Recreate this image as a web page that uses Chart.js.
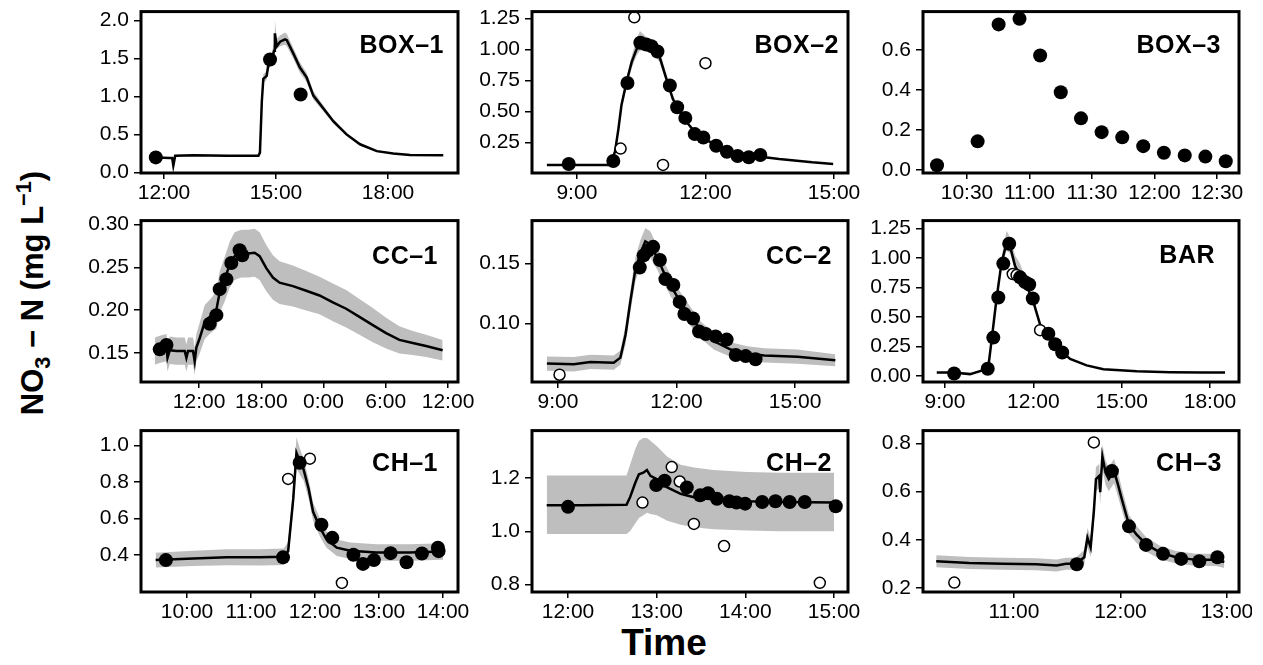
<!DOCTYPE html>
<html>
<head>
<meta charset="utf-8">
<script src="https://cdn.jsdelivr.net/npm/chart.js@4.4.1/dist/chart.umd.min.js"></script>
<style>
  body { margin: 0; background: #fff; }
  #page { position: relative; width: 1252px; height: 665px; overflow: hidden; }
  canvas { position: absolute; }
  .title { position: absolute; font-family: 'Liberation Sans', Arial, sans-serif; font-weight: bold; color: #000; text-align: center; white-space: nowrap; }
  .title span { font-size: 70%; line-height: 0; position: relative; }
</style>
</head>
<body>
<div id="page">
  <div class="title" id="ytitle">NO<span style="top:0.3em">3</span> − N (mg L<span style="top:-0.55em">−1</span>)</div>
  <div class="title" id="xtitle">Time</div>
</div>
<script>
// times are decimal hours of the day (CC-1 runs into the next day, so 24 = 0:00)

// BOX-1
const box1Time = [11.62, 12.16, 12.22, 12.25, 12.30, 12.8, 13.7, 14.53, 14.57, 14.62, 14.66, 14.75, 14.79, 14.88, 14.95, 14.97, 15.02, 15.11, 15.24, 15.29, 15.46, 15.64, 15.82, 16.0, 16.27, 16.54, 16.89, 17.25, 17.70, 18.14, 18.59, 19.48];
const box1No3 = [0.20, 0.19, 0.19, 0.09, 0.22, 0.225, 0.22, 0.22, 0.26, 0.93, 1.23, 1.27, 1.40, 1.48, 1.60, 1.83, 1.66, 1.72, 1.75, 1.74, 1.57, 1.38, 1.25, 1.01, 0.84, 0.67, 0.50, 0.37, 0.28, 0.25, 0.23, 0.225];
const box1Lo = [0.19, 0.18, 0.18, 0.08, 0.21, 0.215, 0.21, 0.21, 0.24, 0.88, 1.17, 1.22, 1.34, 1.42, 1.55, 1.75, 1.62, 1.66, 1.68, 1.66, 1.50, 1.31, 1.19, 0.96, 0.80, 0.64, 0.48, 0.355, 0.27, 0.24, 0.22, 0.215];
const box1Hi = [0.21, 0.20, 0.20, 0.10, 0.23, 0.235, 0.23, 0.23, 0.28, 0.98, 1.29, 1.33, 1.46, 1.55, 1.72, 2.0, 1.76, 1.80, 1.84, 1.82, 1.64, 1.45, 1.31, 1.07, 0.88, 0.70, 0.52, 0.385, 0.29, 0.26, 0.24, 0.235];
const box1SampT = [11.78, 14.84, 15.66];
const box1SampV = [0.197, 1.485, 1.026];
const box1OutT = [];
const box1OutV = [];
const box1XTicks = [12, 15, 18];
const box1YTicks = [0, 0.5, 1.0, 1.5, 2.0];

// BOX-2
const box2Time = [8.30, 9.77, 9.89, 9.97, 10.04, 10.16, 10.28, 10.39, 10.47, 10.62, 10.78, 10.93, 11.09, 11.24, 11.40, 11.55, 11.78, 12.02, 12.33, 12.63, 13.10, 13.72, 14.49, 14.98];
const box2No3 = [0.068, 0.068, 0.175, 0.36, 0.55, 0.74, 0.90, 1.0, 1.04, 1.03, 1.0, 0.94, 0.76, 0.60, 0.50, 0.42, 0.32, 0.27, 0.215, 0.175, 0.143, 0.116, 0.089, 0.076];
const box2Lo = [0.06, 0.06, 0.16, 0.34, 0.52, 0.70, 0.85, 0.95, 0.99, 0.99, 0.96, 0.90, 0.73, 0.58, 0.485, 0.41, 0.31, 0.262, 0.21, 0.17, 0.139, 0.113, 0.087, 0.074];
const box2Hi = [0.076, 0.076, 0.19, 0.38, 0.58, 0.78, 0.95, 1.08, 1.15, 1.10, 1.05, 0.99, 0.80, 0.63, 0.52, 0.43, 0.33, 0.278, 0.22, 0.18, 0.147, 0.119, 0.091, 0.078];
const box2SampT = [8.81, 9.85, 10.18, 10.48, 10.62, 10.74, 10.88, 11.17, 11.34, 11.53, 11.75, 11.95, 12.25, 12.50, 12.75, 13.01, 13.28];
const box2SampV = [0.076, 0.10, 0.73, 1.054, 1.04, 1.027, 0.984, 0.71, 0.534, 0.448, 0.317, 0.29, 0.223, 0.175, 0.14, 0.13, 0.148];
const box2OutT = [10.34, 10.02, 12.0, 11.01];
const box2OutV = [1.26, 0.20, 0.89, 0.068];
const box2XTicks = [9, 12, 15];
const box2YTicks = [0.25, 0.5, 0.75, 1.0, 1.25];

// BOX-3 (grab samples only)
const box3SampT = [10.26, 10.585, 10.753, 10.92, 11.085, 11.25, 11.412, 11.577, 11.742, 11.91, 12.075, 12.242, 12.407, 12.57];
const box3SampV = [0.024, 0.143, 0.727, 0.755, 0.572, 0.388, 0.258, 0.189, 0.163, 0.119, 0.086, 0.073, 0.067, 0.044];
const box3XTicks = [10.5, 11, 11.5, 12, 12.5];
const box3YTicks = [0, 0.2, 0.4, 0.6];

// CC-1
const cc1Time = [7.73, 8.21, 8.86, 8.96, 9.18, 9.82, 10.62, 10.78, 10.94, 11.42, 11.58, 11.74, 12.06, 12.55, 13.19, 13.67, 13.99, 14.47, 14.95, 15.43, 16.07, 16.72, 17.36, 17.84, 18.48, 19.12, 19.76, 21.05, 22.33, 23.61, 24.9, 26.18, 27.46, 28.75, 30.03, 31.31, 32.6, 33.88, 35.48];
const cc1No3 = [0.152, 0.154, 0.156, 0.144, 0.153, 0.152, 0.152, 0.144, 0.152, 0.152, 0.140, 0.156, 0.167, 0.186, 0.194, 0.20, 0.221, 0.236, 0.253, 0.263, 0.266, 0.266, 0.267, 0.263, 0.249, 0.238, 0.232, 0.228, 0.2225, 0.217, 0.209, 0.2015, 0.192, 0.1824, 0.173, 0.165, 0.1614, 0.158, 0.153];
const cc1Lo = [0.136, 0.138, 0.140, 0.128, 0.137, 0.136, 0.136, 0.128, 0.136, 0.136, 0.124, 0.140, 0.149, 0.166, 0.174, 0.178, 0.197, 0.210, 0.226, 0.235, 0.238, 0.238, 0.239, 0.235, 0.222, 0.212, 0.207, 0.204, 0.1995, 0.195, 0.187, 0.1795, 0.171, 0.1624, 0.155, 0.149, 0.1474, 0.145, 0.141];
const cc1Hi = [0.168, 0.170, 0.172, 0.160, 0.169, 0.168, 0.168, 0.160, 0.168, 0.168, 0.156, 0.172, 0.185, 0.206, 0.214, 0.222, 0.245, 0.262, 0.280, 0.291, 0.294, 0.294, 0.295, 0.291, 0.276, 0.264, 0.257, 0.252, 0.2455, 0.239, 0.231, 0.2235, 0.213, 0.2024, 0.191, 0.181, 0.1754, 0.171, 0.165];
const cc1SampT = [8.21, 8.86, 13.03, 13.67, 13.99, 14.63, 15.11, 15.91, 16.17];
const cc1SampV = [0.154, 0.159, 0.184, 0.194, 0.2244, 0.236, 0.255, 0.270, 0.264];
const cc1XTicks = [12, 18, 24, 30, 36];
const cc1YTicks = [0.15, 0.20, 0.25, 0.30];

// CC-2
const cc2Time = [8.72, 9.40, 9.82, 10.41, 10.58, 10.71, 10.83, 10.96, 11.09, 11.21, 11.34, 11.51, 11.68, 11.85, 12.10, 12.36, 12.61, 12.95, 13.37, 13.79, 14.22, 15.06, 16.02];
const cc2No3 = [0.0662, 0.0657, 0.0676, 0.067, 0.0712, 0.0904, 0.1179, 0.1453, 0.159, 0.1687, 0.1659, 0.155, 0.1426, 0.1316, 0.1179, 0.1055, 0.0945, 0.0849, 0.078, 0.0747, 0.0731, 0.072, 0.069];
const cc2Lo = [0.0602, 0.0597, 0.0616, 0.061, 0.0652, 0.0824, 0.1089, 0.1353, 0.148, 0.1577, 0.1549, 0.145, 0.1336, 0.1226, 0.1099, 0.0975, 0.0875, 0.0779, 0.072, 0.0687, 0.0671, 0.066, 0.064];
const cc2Hi = [0.0722, 0.0717, 0.0736, 0.073, 0.0772, 0.0984, 0.1269, 0.1553, 0.170, 0.1797, 0.1769, 0.165, 0.1516, 0.1406, 0.1259, 0.1135, 0.1015, 0.0919, 0.084, 0.0807, 0.0791, 0.078, 0.074];
const cc2SampT = [11.07, 11.17, 11.28, 11.41, 11.58, 11.72, 11.92, 12.08, 12.20, 12.42, 12.57, 12.74, 12.99, 13.27, 13.50, 13.75, 14.00];
const cc2SampV = [0.1467, 0.1569, 0.161, 0.164, 0.153, 0.137, 0.132, 0.1179, 0.1077, 0.104, 0.0931, 0.091, 0.089, 0.0863, 0.0734, 0.0725, 0.0698];
const cc2OutT = [9.04];
const cc2OutV = [0.0569];
const cc2XTicks = [9, 12, 15];
const cc2YTicks = [0.10, 0.15];

// BAR
const barTime = [8.72, 9.28, 9.85, 10.30, 10.47, 10.58, 10.75, 10.92, 11.09, 11.21, 11.38, 11.55, 11.77, 12.0, 12.23, 12.45, 12.79, 13.25, 13.81, 14.38, 15.51, 16.64, 17.77, 18.51];
const barNo3 = [0.030, 0.030, 0.017, 0.050, 0.077, 0.298, 0.657, 0.96, 1.126, 1.098, 0.932, 0.85, 0.767, 0.629, 0.436, 0.353, 0.243, 0.146, 0.091, 0.058, 0.041, 0.033, 0.030, 0.030];
const barLo = [0.025, 0.025, 0.012, 0.044, 0.07, 0.28, 0.63, 0.92, 1.06, 1.04, 0.89, 0.81, 0.74, 0.61, 0.42, 0.34, 0.235, 0.14, 0.087, 0.055, 0.038, 0.03, 0.027, 0.027];
const barHi = [0.035, 0.035, 0.022, 0.056, 0.085, 0.32, 0.69, 1.00, 1.23, 1.17, 1.02, 0.95, 0.80, 0.65, 0.45, 0.365, 0.25, 0.152, 0.095, 0.061, 0.044, 0.036, 0.033, 0.033];
const barSampT = [9.31, 10.45, 10.64, 10.81, 10.98, 11.18, 11.55, 11.72, 11.86, 11.98, 12.51, 12.74, 12.98];
const barSampV = [0.022, 0.063, 0.326, 0.665, 0.952, 1.12, 0.836, 0.795, 0.775, 0.657, 0.359, 0.27, 0.20];
const barOutT = [11.30, 11.43, 12.23];
const barOutV = [0.864, 0.855, 0.389];
const barXTicks = [9, 12, 15, 18];
const barYTicks = [0, 0.25, 0.5, 0.75, 1.0, 1.25];

// CH-1
const ch1Time = [9.51, 10.10, 10.62, 11.14, 11.51, 11.58, 11.66, 11.71, 11.77, 11.82, 11.90, 11.97, 12.08, 12.18, 12.34, 12.55, 12.96, 13.48, 14.0];
const ch1No3 = [0.371, 0.380, 0.386, 0.386, 0.389, 0.42, 0.708, 0.959, 0.905, 0.869, 0.762, 0.636, 0.547, 0.484, 0.439, 0.422, 0.413, 0.413, 0.418];
const ch1Lo = [0.331, 0.338, 0.342, 0.341, 0.344, 0.37, 0.648, 0.874, 0.835, 0.809, 0.707, 0.586, 0.497, 0.439, 0.394, 0.377, 0.368, 0.368, 0.373];
const ch1Hi = [0.411, 0.422, 0.430, 0.431, 0.434, 0.47, 0.768, 1.044, 0.975, 0.929, 0.817, 0.686, 0.597, 0.529, 0.484, 0.467, 0.458, 0.458, 0.463];
const ch1SampT = [9.67, 11.50, 11.76, 12.10, 12.27, 12.60, 12.75, 12.92, 13.18, 13.43, 13.67, 13.92, 13.93];
const ch1SampV = [0.371, 0.386, 0.905, 0.565, 0.493, 0.40, 0.35, 0.371, 0.409, 0.359, 0.407, 0.439, 0.42];
const ch1OutT = [11.58, 11.92, 12.42];
const ch1OutV = [0.816, 0.927, 0.246];
const ch1XTicks = [10, 11, 12, 13, 14];
const ch1YTicks = [0.4, 0.6, 0.8, 1.0];

// CH-2
const ch2Time = [11.76, 12.14, 12.66, 12.70, 12.76, 12.80, 12.85, 12.89, 12.93, 13.0, 13.12, 13.27, 13.42, 13.64, 14.02, 14.39, 15.0];
const ch2No3 = [1.098, 1.098, 1.10, 1.128, 1.183, 1.214, 1.22, 1.23, 1.208, 1.196, 1.165, 1.141, 1.128, 1.12, 1.113, 1.11, 1.108];
const ch2Lo = [0.99, 0.99, 0.99, 1.0, 1.03, 1.05, 1.06, 1.07, 1.065, 1.06, 1.04, 1.025, 1.015, 1.008, 1.003, 1.0, 1.0];
const ch2Hi = [1.21, 1.21, 1.21, 1.25, 1.31, 1.34, 1.35, 1.35, 1.34, 1.32, 1.28, 1.25, 1.24, 1.23, 1.223, 1.22, 1.22];
const ch2SampT = [12.0, 12.995, 13.09, 13.34, 13.49, 13.58, 13.68, 13.82, 13.90, 13.998, 14.19, 14.34, 14.50, 14.67, 15.02];
const ch2SampV = [1.092, 1.174, 1.19, 1.165, 1.135, 1.143, 1.122, 1.113, 1.108, 1.104, 1.11, 1.113, 1.11, 1.11, 1.094];
const ch2OutT = [12.84, 13.17, 13.26, 13.42, 13.76, 14.84];
const ch2OutV = [1.108, 1.241, 1.187, 1.028, 0.945, 0.807];
const ch2XTicks = [12, 13, 14, 15];
const ch2YTicks = [0.8, 1.0, 1.2];

// CH-3
const ch3Time = [10.27, 10.58, 10.90, 11.21, 11.40, 11.49, 11.58, 11.66, 11.69, 11.72, 11.75, 11.77, 11.80, 11.81, 11.83, 11.86, 11.89, 11.94, 11.975, 12.02, 12.08, 12.15, 12.24, 12.37, 12.52, 12.71, 12.90, 12.975];
const ch3No3 = [0.311, 0.304, 0.301, 0.299, 0.294, 0.301, 0.301, 0.328, 0.409, 0.369, 0.517, 0.652, 0.665, 0.598, 0.746, 0.679, 0.652, 0.685, 0.632, 0.557, 0.463, 0.423, 0.382, 0.348, 0.328, 0.317, 0.317, 0.308];
const ch3Lo = [0.286, 0.279, 0.276, 0.274, 0.269, 0.276, 0.276, 0.298, 0.369, 0.329, 0.467, 0.602, 0.615, 0.548, 0.696, 0.629, 0.602, 0.635, 0.582, 0.512, 0.423, 0.388, 0.352, 0.32, 0.302, 0.292, 0.292, 0.283];
const ch3Hi = [0.336, 0.329, 0.326, 0.324, 0.319, 0.326, 0.326, 0.358, 0.449, 0.409, 0.567, 0.702, 0.715, 0.648, 0.796, 0.729, 0.702, 0.735, 0.682, 0.602, 0.503, 0.458, 0.412, 0.376, 0.354, 0.342, 0.342, 0.333];
const ch3SampT = [11.59, 11.92, 12.08, 12.24, 12.40, 12.57, 12.74, 12.91];
const ch3SampV = [0.299, 0.685, 0.456, 0.379, 0.342, 0.321, 0.311, 0.328];
const ch3OutT = [11.75, 10.44];
const ch3OutV = [0.804, 0.223];
const ch3XTicks = [11, 12, 13];
const ch3YTicks = [0.2, 0.4, 0.6, 0.8];

const FONT = "'Liberation Sans', Arial, sans-serif";
Chart.defaults.font.family = FONT;
Chart.defaults.color = '#000';

const panels = [
  { name: 'BOX–1', box: [141, 8, 458, 172.5], x: [11.384, 19.875], y: [-0.008, 2.116], xt: box1XTicks, yt: box1YTicks, dec: 1, lab: [14, 32],
    t: box1Time, v: box1No3, lo: box1Lo, hi: box1Hi, st: box1SampT, sv: box1SampV, ot: box1OutT, ov: box1OutV },
  { name: 'BOX–2', box: [532, 8, 848, 172.5], x: [7.953, 15.326], y: [0.003, 1.306], xt: box2XTicks, yt: box2YTicks, dec: 2, lab: [9, 32],
    t: box2Time, v: box2No3, lo: box2Lo, hi: box2Hi, st: box2SampT, sv: box2SampV, ot: box2OutT, ov: box2OutV },
  { name: 'BOX–3', box: [923, 8, 1239, 172.5], x: [10.148, 12.676], y: [-0.015, 0.791], xt: box3XTicks, yt: box3YTicks, dec: 1, lab: [18, 32],
    t: [], v: [], lo: [], hi: [], st: box3SampT, sv: box3SampV, ot: [], ov: [] },
  { name: 'CC–1', box: [141, 217, 458, 382], x: [6.405, 36.96], y: [0.1158, 0.3046], xt: cc1XTicks, yt: cc1YTicks, dec: 2, lab: [20, 34],
    t: cc1Time, v: cc1No3, lo: cc1Lo, hi: cc1Hi, st: cc1SampT, sv: cc1SampV, ot: [], ov: [] },
  { name: 'CC–2', box: [532, 217, 848, 382], x: [8.343, 16.34], y: [0.0508, 0.186], xt: cc2XTicks, yt: cc2YTicks, dec: 2, lab: [16, 34],
    t: cc2Time, v: cc2No3, lo: cc2Lo, hi: cc2Hi, st: cc2SampT, sv: cc2SampV, ot: cc2OutT, ov: cc2OutV },
  { name: 'BAR', box: [923, 217, 1239, 382], x: [8.252, 18.985], y: [-0.0497, 1.316], xt: barXTicks, yt: barYTicks, dec: 2, lab: [24, 33],
    t: barTime, v: barNo3, lo: barLo, hi: barHi, st: barSampT, sv: barSampV, ot: barOutT, ov: barOutV },
  { name: 'CH–1', box: [141, 427, 458, 592], x: [9.281, 14.234], y: [0.196, 1.081], xt: ch1XTicks, yt: ch1YTicks, dec: 1, lab: [20, 31],
    t: ch1Time, v: ch1No3, lo: ch1Lo, hi: ch1Hi, st: ch1SampT, sv: ch1SampV, ot: ch1OutT, ov: ch1OutV },
  { name: 'CH–2', box: [532, 427, 848, 592], x: [11.594, 15.158], y: [0.7725, 1.378], xt: ch2XTicks, yt: ch2YTicks, dec: 1, lab: [16, 31],
    t: ch2Time, v: ch2No3, lo: ch2Lo, hi: ch2Hi, st: ch2SampT, sv: ch2SampV, ot: ch2OutT, ov: ch2OutV },
  { name: 'CH–3', box: [923, 427, 1239, 592], x: [10.146, 13.113], y: [0.1838, 0.853], xt: ch3XTicks, yt: ch3YTicks, dec: 1, lab: [17, 31],
    t: ch3Time, v: ch3No3, lo: ch3Lo, hi: ch3Hi, st: ch3SampT, sv: ch3SampV, ot: ch3OutT, ov: ch3OutV }
];

const Y_W = 80, PAD_T = 14, PAD_R = 34, X_H = 40;

const pts = (xs, ys) => xs.map((x, i) => ({ x: x, y: ys[i] }));

function timeLabel(v) {
  const h = Math.floor(v + 1e-6);
  const m = Math.round((v - h) * 60);
  return (h % 24) + ':' + String(m).padStart(2, '0');
}

// panel border + station name, drawn over the data like ggplot's panel.border
const framePlugin = {
  id: 'frame',
  afterDraw(chart, args, opts) {
    const { ctx, chartArea: a } = chart;
    ctx.save();
    ctx.lineWidth = 3;
    ctx.strokeStyle = '#000';
    ctx.strokeRect(a.left, a.top, a.right - a.left, a.bottom - a.top);
    ctx.fillStyle = '#000';
    ctx.font = 'bold 25px ' + FONT;
    ctx.letterSpacing = '0.5px';
    ctx.textAlign = 'right';
    ctx.textBaseline = 'alphabetic';
    ctx.fillText(opts.text, a.right - opts.dx, a.top + opts.dy + 9);
    ctx.restore();
  }
};

const page = document.getElementById('page');

panels.forEach(p => {
  const [bl, bt, br, bb] = p.box;
  const cv = document.createElement('canvas');
  const w = Math.round(br - bl + Y_W + PAD_R);
  const h = Math.round(bb - bt + PAD_T + X_H);
  cv.width = w; cv.height = h;
  cv.style.left = (bl - Y_W) + 'px';
  cv.style.top = (bt - PAD_T) + 'px';
  page.appendChild(cv);

  new Chart(cv.getContext('2d'), {
    type: 'line',
    data: {
      datasets: [
        { data: pts(p.t, p.lo), borderWidth: 0, pointRadius: 0, fill: false, order: 4 },
        { data: pts(p.t, p.hi), borderWidth: 0, pointRadius: 0, fill: '-1', backgroundColor: '#bebebe', order: 3 },
        { data: pts(p.t, p.v), borderColor: '#000', borderWidth: 2.5, pointRadius: 0, fill: false, order: 2 },
        { data: pts(p.ot, p.ov), showLine: false, pointRadius: 5.5, pointBackgroundColor: '#fff',
          pointBorderColor: '#000', pointBorderWidth: 1.5, order: 1 },
        { data: pts(p.st, p.sv), showLine: false, pointRadius: 7, pointBackgroundColor: '#000',
          pointBorderColor: '#000', pointBorderWidth: 0, order: 0 }
      ]
    },
    options: {
      responsive: false,
      animation: false,
      events: [],
      layout: { padding: { left: 0, top: PAD_T, right: PAD_R, bottom: 0 } },
      plugins: {
        legend: { display: false },
        tooltip: { enabled: false },
        frame: { text: p.name, dx: p.lab[0], dy: p.lab[1] }
      },
      scales: {
        x: {
          type: 'linear',
          min: p.x[0], max: p.x[1],
          afterBuildTicks: s => { s.ticks = p.xt.map(v => ({ value: v })); },
          afterFit: s => { s.height = X_H; },
          grid: { drawOnChartArea: false, drawTicks: true, tickLength: 6, color: '#000', lineWidth: 1.5 },
          border: { display: false },
          ticks: { autoSkip: false, maxRotation: 0, padding: 2, font: { size: 21 }, color: '#000', callback: v => timeLabel(v) }
        },
        y: {
          type: 'linear',
          min: p.y[0], max: p.y[1],
          afterBuildTicks: s => { s.ticks = p.yt.map(v => ({ value: v })); },
          afterFit: s => { s.width = Y_W; },
          grid: { drawOnChartArea: false, drawTicks: true, tickLength: 7, color: '#000', lineWidth: 1.5 },
          border: { display: false },
          ticks: { autoSkip: false, padding: 5, font: { size: 21 }, color: '#000', callback: v => v.toFixed(p.dec) }
        }
      }
    },
    plugins: [framePlugin]
  });
});

// axis titles
const yt = document.getElementById('ytitle');
yt.style.cssText += 'font-size:31px;width:320px;height:40px;line-height:40px;left:' + (32.5 - 160) + 'px;top:' + (293 - 20) + 'px;transform:rotate(-90deg);';
const xt = document.getElementById('xtitle');
xt.style.cssText += 'font-size:37px;width:200px;height:42px;line-height:42px;left:564px;top:622px;';
</script>
</body>
</html>
